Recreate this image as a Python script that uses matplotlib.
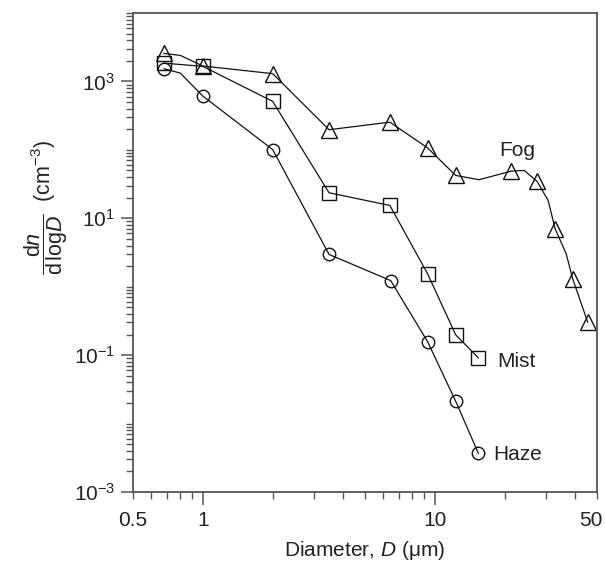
import matplotlib
matplotlib.use("Agg")
import matplotlib.pyplot as plt
from matplotlib.ticker import FixedLocator, NullFormatter, FixedFormatter
from matplotlib.transforms import ScaledTranslation

plt.rcParams['font.family'] = ['Liberation Sans', 'DejaVu Sans']
plt.rcParams['mathtext.fontset'] = 'custom'
plt.rcParams['mathtext.rm'] = 'Liberation Sans'
plt.rcParams['mathtext.it'] = 'Liberation Sans:italic'
plt.rcParams['mathtext.bf'] = 'Liberation Sans:bold'

# Line paths (including unmarked vertices of the drawn curves)
fog_line_x = [0.68, 0.80, 1.0, 2.0, 3.5, 6.4, 9.3, 12.3, 15.5, 21.4, 24.3, 27.6, 30.8, 33.0, 36.8, 39.3, 45.6]
fog_line_y = [2570, 2400, 1680, 1300, 197, 254, 107, 42.3, 36.6, 49, 50, 34.5, 18.2, 7.0, 3.05, 1.30, 0.303]
fog_x = [0.68, 1.0, 2.0, 3.5, 6.4, 9.3, 12.3, 21.4, 27.6, 33.0, 39.3, 45.6]
fog_y = [2570, 1680, 1300, 197, 254, 107, 42.3, 49, 34.5, 7.0, 1.30, 0.303]

mist_line_x = [0.68, 1.0, 2.0, 3.5, 6.4, 9.3, 12.3, 15.4]
mist_line_y = [1850, 1660, 511, 23.6, 15.4, 1.55, 0.198, 0.0914]
mist_x = mist_line_x
mist_y = mist_line_y

haze_line_x = [0.68, 0.80, 1.0, 2.0, 3.5, 6.45, 9.3, 12.3, 15.4]
haze_line_y = [1535, 1322, 610, 101, 2.96, 1.23, 0.158, 0.0212, 0.00368]
haze_x = [0.68, 1.0, 2.0, 3.5, 6.45, 9.3, 12.3, 15.4]
haze_y = [1535, 610, 101, 2.96, 1.23, 0.158, 0.0212, 0.00368]

labels = ["Fog", "Mist", "Haze"]
label_x = [18.9, 18.5, 17.8]
label_y = [98, 0.0805, 0.00352]

x_major = [1, 10]
x_minor = [0.5, 0.6, 0.7, 0.8, 0.9, 2, 3, 4, 5, 6, 7, 8, 9, 20, 30, 40, 50]
x_minor_labels = ["0.5"] + [""] * 15 + ["50"]
y_major = [1e-3, 1e-1, 1e1, 1e3]
y_major_labels = [r"$10^{-3}$", r"$10^{-1}$", r"$10^{1}$", r"$10^{3}$"]

FS = 15
fig = plt.figure(figsize=(6.05, 5.62), dpi=100)
W, H = 605, 562
ax = fig.add_axes([133 / W, (H - 492) / H, (597 - 133) / W, (492 - 13) / H])
ax.set_xscale('log')
ax.set_yscale('log')
ax.set_xlim(0.5, 50)
ax.set_ylim(1e-3, 1e4)

lw = 0.9
ax.plot(fog_line_x, fog_line_y, color='#111111', lw=lw)
ax.plot(mist_line_x, mist_line_y, color='#111111', lw=lw)
ax.plot(haze_line_x, haze_line_y, color='#111111', lw=lw)
ax.plot(fog_x, fog_y, ls='none', marker='^', ms=11.5, mfc='none', mec='#111111', mew=1.0)
ax.plot(mist_x, mist_y, ls='none', marker='s', ms=9.5, mfc='none', mec='#111111', mew=1.0)
ax.plot(haze_x, haze_y, ls='none', marker='o', ms=9, mfc='none', mec='#111111', mew=1.0)

for t, lx, ly in zip(labels, label_x, label_y):
    ax.text(lx, ly, t, fontsize=FS, ha='left', va='center', color='#222222')

# ticks
ax.xaxis.set_major_locator(FixedLocator(x_major))
ax.xaxis.set_major_formatter(FixedFormatter([str(v) for v in x_major]))
ax.xaxis.set_minor_locator(FixedLocator(x_minor))
ax.xaxis.set_minor_formatter(FixedFormatter(x_minor_labels))

y_minor = []
for e in range(-3, 5):
    for m in range(1, 10):
        v = m * 10.0 ** e
        if v <= 1e4 and v not in y_major:
            y_minor.append(v)
ax.yaxis.set_major_locator(FixedLocator(y_major))
ax.yaxis.set_major_formatter(FixedFormatter(y_major_labels))
ax.yaxis.set_minor_locator(FixedLocator(y_minor))
ax.yaxis.set_minor_formatter(NullFormatter())

spc = '#555555'
ax.tick_params(which='major', direction='out', length=9, width=1.1, color=spc,
               labelsize=FS, labelcolor='#222222', pad=4)
ax.tick_params(which='minor', direction='out', length=5, width=1.0, color=spc,
               labelsize=FS, labelcolor='#222222', pad=8)
ax.tick_params(axis='x', which='major', pad=5)
ax.tick_params(axis='x', which='minor', pad=9)

# shift the "50" label slightly left so it stays inside the figure
last = ax.xaxis.get_minor_ticks()[-1]
last.label1.set_transform(last.label1.get_transform() +
                          ScaledTranslation(-6 / 100, 0, fig.dpi_scale_trans))

for s in ax.spines.values():
    s.set_color(spc)
    s.set_linewidth(1.3)

ax.set_xlabel(r"Diameter, $D$ ($\mathrm{\mu}$m)", fontsize=FS, color='#222222', labelpad=6)
ax.set_ylabel(r"$\dfrac{\mathrm{d}n}{\mathrm{d\,log}D}$  (cm$^{-3}$)", fontsize=FS + 0.5, color='#222222')
ax.yaxis.set_label_coords(-0.135, 0.595)

fig.savefig("out.png", dpi=100)
